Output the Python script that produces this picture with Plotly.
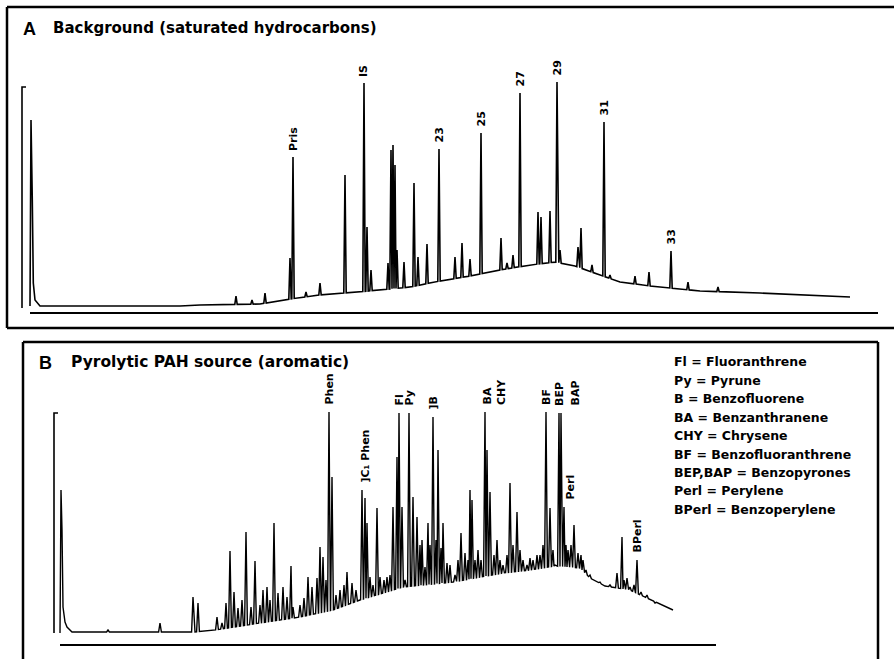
import numpy as np
import plotly.graph_objects as go

W, H = 894, 659

# ---------------- Panel A: background, saturated hydrocarbons ----------------
a_peak_rt = [20.6, 22.2, 23.5, 26.0, 26.3, 27.6, 29.0, 31.5, 33.4, 33.7, 34.1,
             35.8, 36.1, 36.3, 36.5, 36.7, 37.4, 38.4, 38.8, 39.7, 40.9, 42.5,
             43.2, 44.0, 45.1, 47.1, 47.7, 48.3, 49.0, 50.8, 51.1, 52.0, 52.7,
             53.0, 54.8, 55.1, 56.2, 57.4, 58.0, 60.5, 61.9, 64.1, 65.8, 68.8]
a_peak_top = [17, 13, 20, 55, 156, 21, 30, 138, 230, 86, 43,
              50, 163, 168, 148, 63, 51, 130, 56, 69, 164, 56,
              70, 54, 180, 75, 50, 58, 220, 101, 96, 102, 231,
              63, 66, 85, 48, 191, 38, 37, 41, 62, 31, 26]
a_base_rt = [1.0, 15.0, 17.0, 23.0, 26.0, 29.0, 31.5, 35.0, 38.0, 41.0, 44.0,
             47.0, 50.0, 52.5, 54.5, 57.0, 59.0, 62.0, 67.0, 73.0, 82.0]
a_base_resp = [7, 7, 8, 9, 14, 18, 20, 23, 26, 32, 37,
               43, 48, 51, 47, 38, 31, 27, 22, 20, 16]
a_solvent_rt = [0.0, 0.1, 0.23, 0.33, 0.5, 1.0]
a_solvent_resp = [7, 193, 113, 30, 13, 7]
a_marker_rt = [-0.4, -0.8, -0.8]
a_marker_resp = [226, 226, 5]
a_run = [0.0, 84.8]
a_labels = ["Pris", "IS", "23", "25", "27", "29", "31", "33"]
a_label_rt = [26.3, 33.4, 40.9, 45.1, 49.0, 52.7, 57.4, 64.1]

# ---------------- Panel B: pyrolytic PAH source, aromatic ----------------
b_peak_rt = [4.8, 10.0, 13.3, 13.8, 15.7, 16.2, 16.6, 17.0, 17.4, 17.8, 18.2,
             18.6, 19.1, 19.5, 20.0, 20.3, 20.7, 21.0, 21.4, 21.8, 22.3, 22.7,
             23.1, 23.3, 24.0, 24.4, 24.8, 25.2, 25.7, 26.0, 26.3, 26.6, 26.9,
             27.2, 27.6, 28.0, 28.4, 28.7, 29.2, 29.6, 30.2, 30.5, 30.7, 31.0,
             31.3, 31.7, 32.0, 32.4, 32.7, 33.0, 33.3, 33.7, 33.9, 34.2, 34.5,
             34.9, 35.3, 35.7, 36.0, 36.2, 36.5, 36.8, 37.0, 37.3, 37.6, 37.8,
             38.1, 38.3, 38.7, 39.0, 39.5, 39.8, 40.1, 40.5, 40.8, 41.0, 41.2,
             41.5, 41.8, 42.1, 42.5, 42.7, 43.0, 43.4, 43.7, 44.0, 44.3, 44.7,
             45.0, 45.3, 45.7, 46.0, 46.3, 46.7, 47.0, 47.3, 47.7, 48.0, 48.3,
             48.6, 49.0, 49.3, 49.5, 49.9, 50.1, 50.4, 50.6, 50.8, 51.1, 51.4,
             51.8, 52.1, 52.3, 52.6, 53.0, 53.5, 54.0, 55.0, 55.7, 56.2, 56.4,
             56.7, 57.0, 57.4, 57.7, 58.1, 58.7, 59.5]
b_peak_top = [15, 22, 48, 42, 28, 22, 42, 94, 53, 37, 45,
              113, 38, 84, 40, 55, 58, 45, 122, 52, 58, 48,
              79, 38, 40, 47, 68, 58, 67, 98, 88, 65, 233,
              168, 50, 55, 60, 73, 62, 55, 155, 147, 122, 68,
              60, 137, 68, 65, 68, 70, 138, 188, 232, 138, 65,
              232, 148, 128, 100, 105, 78, 122, 100, 228, 105, 195,
              97, 122, 82, 80, 70, 85, 112, 92, 85, 155, 145,
              85, 95, 85, 233, 195, 153, 90, 105, 85, 80, 90,
              162, 100, 133, 95, 85, 80, 87, 85, 90, 90, 100,
              233, 137, 95, 80, 232, 232, 138, 100, 95, 100, 120,
              92, 90, 85, 75, 70, 65, 63, 60, 72, 108, 65,
              67, 58, 60, 85, 53, 50, 42]
b_base_rt = [1.2, 13.5, 15.5, 20.0, 24.0, 27.3, 30.0, 34.3, 39.3, 44.3, 47.0,
             49.5, 52.0, 53.0, 54.5, 57.0, 58.7, 61.3]
b_base_resp = [13, 13, 15, 22, 28, 35, 45, 58, 63, 72, 75,
               79, 77, 67, 59, 55, 47, 35]
b_solvent_rt = [0.0, 0.1, 0.2, 0.3, 0.5, 0.7, 1.2]
b_solvent_resp = [12, 155, 115, 38, 23, 18, 13]
b_marker_rt = [-0.2, -0.6, -0.6]
b_marker_resp = [232, 232, 12]
b_run = [0.0, 65.6]
b_labels = ["Phen", "]C\u2081 Phen", "Fl", "Py", "]B", "BA", "CHY", "BF",
            "BEP", "BAP", "Perl", "BPerl"]
b_label_rt = [26.9, 30.2, 33.9, 34.9, 37.3, 42.5, 42.5, 48.6, 49.9, 49.9, 50.4, 57.7]
b_legend = ["Fl = Fluoranthrene", "Py = Pyrune", "B = Benzofluorene",
            "BA = Benzanthranene", "CHY = Chrysene", "BF = Benzofluoranthrene",
            "BEP,BAP = Benzopyrones", "Perl = Perylene", "BPerl = Benzoperylene"]


def build_signal(peak_rt, peak_top, base_rt, base_resp, hw):
    order = np.argsort(peak_rt)
    prt = np.asarray(peak_rt, float)[order]
    ptop = np.asarray(peak_top, float)[order]
    pts = []
    intervals = []
    n = len(prt)
    for i in range(n):
        r, t = prt[i], ptop[i]
        lf, rf = r - hw, r + hw
        if i > 0:
            lf = max(lf, (prt[i - 1] + r) / 2)
        if i < n - 1:
            rf = min(rf, (prt[i + 1] + r) / 2)
        intervals.append((lf, rf))
        pts.append((lf, float(np.interp(lf, base_rt, base_resp))))
        pts.append((r, t))
        pts.append((rf, float(np.interp(rf, base_rt, base_resp))))
    for bx, by in zip(base_rt, base_resp):
        if not any(lf <= bx <= rf for lf, rf in intervals):
            pts.append((bx, by))
    pts.sort(key=lambda p: p[0])
    return [p[0] for p in pts], [p[1] for p in pts]


ax_x, ax_y = build_signal(a_peak_rt, a_peak_top, a_base_rt, a_base_resp, 0.12)
bx_x, bx_y = build_signal(b_peak_rt, b_peak_top, b_base_rt, b_base_resp, 0.14)

fig = go.Figure()

fig.add_trace(go.Scatter(x=a_solvent_rt + ax_x, y=a_solvent_resp + ax_y, mode="lines",
                         line=dict(color="black", width=1.6), xaxis="x", yaxis="y",
                         hoverinfo="skip"))
fig.add_trace(go.Scatter(x=a_marker_rt, y=a_marker_resp, mode="lines",
                         line=dict(color="black", width=1.6), xaxis="x", yaxis="y"))
fig.add_trace(go.Scatter(x=a_run, y=[0, 0], mode="lines",
                         line=dict(color="black", width=1.8), xaxis="x", yaxis="y"))

fig.add_trace(go.Scatter(x=b_solvent_rt + bx_x, y=b_solvent_resp + bx_y, mode="lines",
                         line=dict(color="black", width=1.4), xaxis="x2", yaxis="y2",
                         hoverinfo="skip"))
fig.add_trace(go.Scatter(x=b_marker_rt, y=b_marker_resp, mode="lines",
                         line=dict(color="black", width=1.6), xaxis="x2", yaxis="y2"))
fig.add_trace(go.Scatter(x=b_run, y=[0, 0], mode="lines",
                         line=dict(color="black", width=1.8), xaxis="x2", yaxis="y2"))

label_font = dict(family="DejaVu Sans", size=11, color="black")
annotations = []


def local_top(rt, prt, ptop):
    best = 0
    for r, t in zip(prt, ptop):
        if abs(r - rt) <= 0.12:
            best = max(best, t)
    return best


for txt, rt in zip(a_labels, a_label_rt):
    annotations.append(dict(x=rt, y=local_top(rt, a_peak_rt, a_peak_top), xref="x", yref="y",
                            text="<b>%s</b>" % txt, textangle=-90, showarrow=False,
                            xanchor="center", yanchor="bottom", yshift=4, font=label_font))

b_shift = {"BA": 2, "CHY": 16, "BAP": 16, "Perl": 6, "]C\u2081 Phen": 3}
for txt, rt in zip(b_labels, b_label_rt):
    annotations.append(dict(x=rt, y=local_top(rt, b_peak_rt, b_peak_top), xref="x2", yref="y2",
                            text="<b>%s</b>" % txt, textangle=-90, showarrow=False,
                            xanchor="center", yanchor="bottom", yshift=5,
                            xshift=b_shift.get(txt, 0), font=label_font))


def px(xp):
    return xp / W


def py(yp):
    return 1 - yp / H


title_big = dict(family="Liberation Sans", size=18, color="black")
annotations += [
    dict(x=px(21), y=py(29), xref="paper", yref="paper", text="<b>A</b>", showarrow=False,
         xanchor="left", yanchor="middle", font=title_big),
    dict(x=px(51), y=py(28), xref="paper", yref="paper",
         text="<b>Background (saturated hydrocarbons)</b>", showarrow=False,
         xanchor="left", yanchor="middle",
         font=dict(family="DejaVu Sans", size=15, color="black")),
    dict(x=px(37), y=py(363), xref="paper", yref="paper", text="<b>B</b>", showarrow=False,
         xanchor="left", yanchor="middle", font=title_big),
    dict(x=px(69), y=py(362), xref="paper", yref="paper",
         text="<b>Pyrolytic PAH source (aromatic)</b>", showarrow=False,
         xanchor="left", yanchor="middle",
         font=dict(family="DejaVu Sans", size=15.5, color="black")),
]
for i, line in enumerate(b_legend):
    annotations.append(dict(x=px(672), y=py(362 + i * 18.4), xref="paper", yref="paper",
                            text="<b>%s</b>" % line, showarrow=False, xanchor="left",
                            yanchor="middle", font=dict(family="DejaVu Sans", size=12.5,
                                                        color="black")))

frame = dict(color="black", width=2.5)
shapes = [
    dict(type="line", xref="x domain", yref="y domain", x0=0, x1=0, y0=0, y1=1, line=frame),
    dict(type="line", xref="x domain", yref="y domain", x0=0, x1=1.01, y0=1, y1=1, line=frame),
    dict(type="line", xref="x domain", yref="y domain", x0=0, x1=1.01, y0=0, y1=0, line=frame),
    dict(type="line", xref="x2 domain", yref="y2 domain", x0=0, x1=0, y0=-0.01, y1=1, line=frame),
    dict(type="line", xref="x2 domain", yref="y2 domain", x0=0, x1=1, y0=1, y1=1, line=frame),
    dict(type="line", xref="x2 domain", yref="y2 domain", x0=1, x1=1, y0=-0.01, y1=1, line=frame),
]

hidden = dict(showgrid=False, zeroline=False, showticklabels=False, ticks="", showline=False,
              fixedrange=True)
fig.update_layout(
    width=W, height=H, margin=dict(l=0, r=0, t=0, b=0),
    paper_bgcolor="white", plot_bgcolor="white", showlegend=False,
    xaxis=dict(domain=[7 / W, 893 / W], range=[-2.3, 86.3], **hidden),
    yaxis=dict(domain=[1 - 328 / H, 1 - 7 / H], range=[-15, 306], **hidden),
    xaxis2=dict(domain=[23 / W, 878 / W], range=[-3.7, 81.8], anchor="y2", **hidden),
    yaxis2=dict(domain=[0, 1 - 342 / H], range=[-14, 303], anchor="x2", **hidden),
    annotations=annotations, shapes=shapes,
)

fig.write_html("out.html", config={"displayModeBar": False},
               post_script="document.body.style.margin='0px';document.body.style.overflow='hidden';")
